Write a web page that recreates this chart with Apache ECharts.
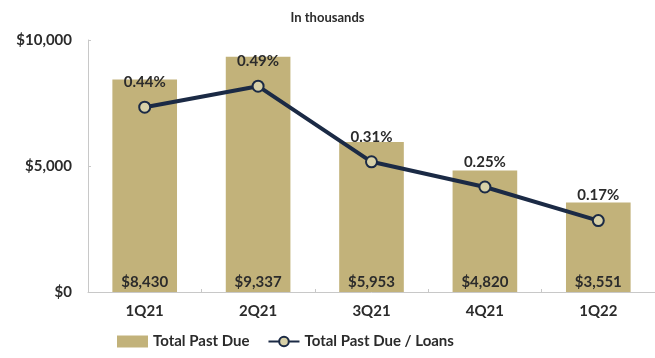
<!DOCTYPE html>
<html>
<head>
<meta charset="utf-8">
<script src="https://cdn.jsdelivr.net/npm/echarts@6/dist/echarts.min.js"></script>
<style>
  html, body { margin: 0; padding: 0; background: #fff; }
  #chart { width: 655px; height: 358px; }
</style>
</head>
<body>
<div id="chart"></div>
<script>
// Quarterly past-due totals (in thousands) and ratio to loans (%)
const quarters = ['1Q21', '2Q21', '3Q21', '4Q21', '1Q22'];
const totalPastDue = [8430, 9337, 5953, 4820, 3551];
const pastDueToLoans = [0.44, 0.49, 0.31, 0.25, 0.17];
const yTicks = [0, 5000, 10000];

const FONT = 'Lato';
const TEXT = '#2b2b2b';

const chart = echarts.init(document.getElementById('chart'), null, { renderer: 'canvas' });

chart.setOption({
  animation: false,
  textStyle: { fontFamily: FONT },
  title: {
    text: 'In thousands',
    left: 'center',
    top: 6,
    textStyle: { fontFamily: FONT, fontSize: 13, fontWeight: 'bold', color: TEXT }
  },
  grid: { left: 88, right: 0, top: 40, bottom: 66, containLabel: false },
  legend: {
    bottom: 4,
    left: 112,
    itemGap: 18,
    itemWidth: 31,
    itemHeight: 12,
    textStyle: { fontFamily: FONT, fontSize: 15, fontWeight: 'bold', color: TEXT },
    data: [
      { name: 'Total Past Due', icon: 'rect' },
      { name: 'Total Past Due / Loans' }
    ]
  },
  xAxis: {
    type: 'category',
    data: quarters,
    axisLine: { lineStyle: { color: '#c8c8c8', width: 1 } },
    axisTick: { show: true, inside: true, length: 3, lineStyle: { color: '#c8c8c8' } },
    axisLabel: { fontFamily: FONT, fontSize: 15, fontWeight: 'bold', color: TEXT, margin: 12 }
  },
  yAxis: [
    {
      type: 'value',
      min: yTicks[0],
      max: yTicks[yTicks.length - 1],
      interval: yTicks[1] - yTicks[0],
      axisLine: { show: true, lineStyle: { color: '#c8c8c8', width: 1 } },
      axisTick: { show: true, inside: true, length: 3, lineStyle: { color: '#c8c8c8' } },
      splitLine: { show: false },
      axisLabel: {
        fontFamily: FONT, fontSize: 15, fontWeight: 'bold', color: TEXT, margin: 16,
        formatter: v => '$' + v.toLocaleString('en-US')
      }
    },
    {
      type: 'value',
      min: 0,
      max: 0.6,
      show: false,
      splitLine: { show: false }
    }
  ],
  series: [
    {
      name: 'Total Past Due',
      type: 'bar',
      data: totalPastDue,
      barWidth: '57%',
      itemStyle: { color: '#c2b27a' },
      label: {
        show: true,
        position: 'insideBottom',
        distance: 2,
        fontFamily: FONT,
        fontSize: 15,
        fontWeight: 'bold',
        color: TEXT,
        formatter: p => '$' + p.value.toLocaleString('en-US')
      },
      z: 1
    },
    {
      name: 'Total Past Due / Loans',
      type: 'line',
      yAxisIndex: 1,
      data: pastDueToLoans,
      symbol: 'circle',
      symbolSize: 11,
      lineStyle: { color: '#1b2a45', width: 4 },
      itemStyle: { color: '#d8d1a8', borderColor: '#1b2a45', borderWidth: 2 },
      label: {
        show: true,
        position: 'top',
        distance: 11,
        fontFamily: FONT,
        fontSize: 15,
        fontWeight: 'bold',
        color: TEXT,
        formatter: p => p.value.toFixed(2) + '%'
      },
      z: 3
    }
  ]
});
</script>
</body>
</html>
